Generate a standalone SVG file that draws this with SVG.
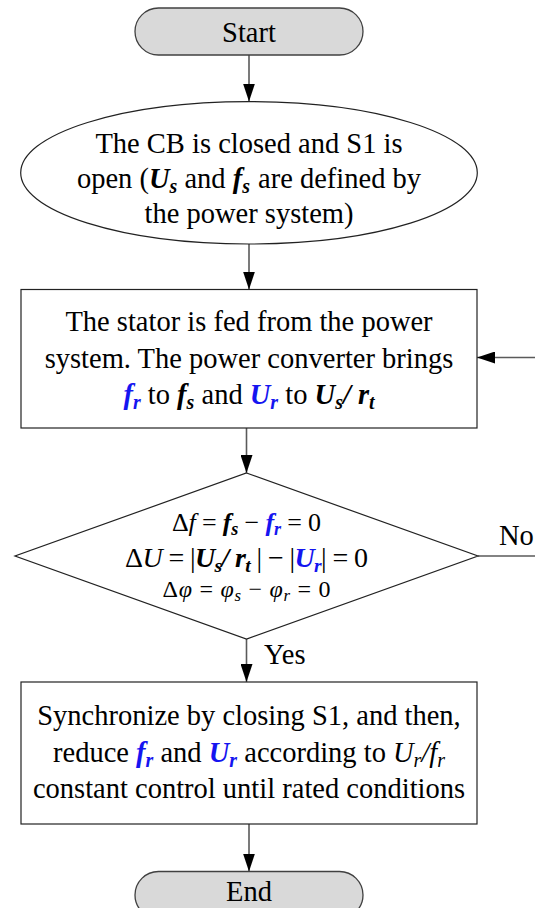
<svg xmlns="http://www.w3.org/2000/svg" width="535" height="908" viewBox="0 0 535 908">
  <defs>
    <marker id="arrow" markerUnits="userSpaceOnUse" markerWidth="18" markerHeight="12" refX="18" refY="6" orient="auto">
      <path d="M0,0 L18,6 L0,12 z" fill="#000"/>
    </marker>
    <style>
      .term { fill: #d9d9d9; stroke: #404040; stroke-width: 1.3; }
      .proc { fill: #fff; stroke: #222; stroke-width: 1.2; }
      .conn { fill: none; stroke: #5a5a5a; stroke-width: 1.6; }
      text { font-family: 'Liberation Serif', 'DejaVu Serif', serif; font-size: 28.5px; fill: #000; }
      text.c { text-anchor: middle; }
      .bi { font-weight: bold; font-style: italic; }
      .i { font-style: italic; }
      .blue { fill: #1515f0; }
      .sub { font-size: 70%; }
    </style>
  </defs>

  <g font-family="Liberation Serif, DejaVu Serif, serif">
  <!-- connectors -->
  <g id="connectors">
    <line class="conn" x1="249" y1="55" x2="249" y2="101.5" marker-end="url(#arrow)"/>
    <line class="conn" x1="249" y1="244" x2="249" y2="289.5" marker-end="url(#arrow)"/>
    <line class="conn" x1="246.5" y1="428" x2="246.5" y2="473" marker-end="url(#arrow)"/>
    <line class="conn" x1="246.5" y1="639" x2="246.5" y2="682" marker-end="url(#arrow)"/>
    <line class="conn" x1="249" y1="824" x2="249" y2="871.5" marker-end="url(#arrow)"/>
    <!-- "No" branch loops back on the right -->
    <line class="conn" x1="478" y1="556" x2="535" y2="556"/>
    <line class="conn" x1="535" y1="357.5" x2="477" y2="357.5" marker-end="url(#arrow)"/>
    <text x="499" y="545">No</text>
    <text x="264" y="664">Yes</text>
  </g>

  <!-- start terminal -->
  <g id="start">
    <rect class="term" x="135" y="8" width="228" height="47" rx="23.5"/>
    <text class="c" x="249" y="42">Start</text>
  </g>

  <!-- initial state -->
  <g id="initial-state">
    <ellipse class="proc" cx="249" cy="172.8" rx="228.3" ry="71.2"/>
    <text class="c" x="249" y="153">The CB is closed and S1 is</text>
    <text class="c" x="249" y="188">open (<tspan class="bi">U</tspan><tspan class="bi sub" dy="5">s</tspan><tspan dy="-5"> and </tspan><tspan class="bi">f</tspan><tspan class="bi sub" dy="5">s</tspan><tspan dy="-5" dx="8">are defined by</tspan></text>
    <text class="c" x="249" y="223">the power system)</text>
  </g>

  <!-- converter step -->
  <g id="converter-step">
    <rect class="proc" x="21" y="289.5" width="456" height="138.5"/>
    <text class="c" x="249" y="331">The stator is fed from the power</text>
    <text class="c" x="249" y="368">system. The power converter brings</text>
    <text class="c" x="249" y="404"><tspan class="bi blue">f</tspan><tspan class="bi blue sub" dy="5">r</tspan><tspan dy="-5"> to </tspan><tspan class="bi">f</tspan><tspan class="bi sub" dy="5">s</tspan><tspan dy="-5"> and </tspan><tspan class="bi blue">U</tspan><tspan class="bi blue sub" dy="5">r</tspan><tspan dy="-5"> to </tspan><tspan class="bi">U</tspan><tspan class="bi sub" dy="5">s</tspan><tspan class="bi" dy="-5">/ r</tspan><tspan class="bi sub" dy="5">t</tspan></text>
  </g>

  <!-- synchronism check -->
  <g id="sync-check">
    <polygon class="proc" points="246.5,473 478,556 246.5,639 15,556"/>
    <text class="c" x="246.5" y="531" font-size="26" style="font-size:26px" textLength="149" lengthAdjust="spacing">Δ<tspan class="i">f</tspan> = <tspan class="bi">f</tspan><tspan class="bi sub" dy="4">s</tspan><tspan dy="-4"> − </tspan><tspan class="bi blue">f</tspan><tspan class="bi blue sub" dy="4">r</tspan><tspan dy="-4"> = 0</tspan></text>
    <text class="c" x="246.5" y="567" style="font-size:28px" textLength="243" lengthAdjust="spacing">Δ<tspan class="i">U</tspan> = |<tspan class="bi">U</tspan><tspan class="bi sub" dy="5">s</tspan><tspan class="bi" dy="-5">/ r</tspan><tspan class="bi sub" dy="5">t</tspan><tspan dy="-5"> | − |</tspan><tspan class="bi blue">U</tspan><tspan class="bi blue sub" dy="5">r</tspan><tspan dy="-5">| = 0</tspan></text>
    <text class="c" x="246.5" y="597" style="font-size:24px" textLength="168" lengthAdjust="spacing">Δ<tspan class="i">φ</tspan> = <tspan class="i">φ</tspan><tspan class="i sub" dy="4">s</tspan><tspan dy="-4"> − </tspan><tspan class="i">φ</tspan><tspan class="i sub" dy="4">r</tspan><tspan dy="-4"> = 0</tspan></text>
  </g>

  <!-- synchronize step -->
  <g id="synchronize-step">
    <rect class="proc" x="21" y="682" width="456" height="142"/>
    <text class="c" x="249" y="725">Synchronize by closing S1, and then,</text>
    <text class="c" x="249" y="762">reduce <tspan class="bi blue">f</tspan><tspan class="bi blue sub" dy="5">r</tspan><tspan dy="-5"> and </tspan><tspan class="bi blue">U</tspan><tspan class="bi blue sub" dy="5">r</tspan><tspan dy="-5"> according to </tspan><tspan class="i">U</tspan><tspan class="i sub" dy="5">r</tspan><tspan class="i" dy="-5">/f</tspan><tspan class="i sub" dy="5">r</tspan></text>
    <text class="c" x="249" y="798">constant control until rated conditions</text>
  </g>

  <!-- end terminal -->
  <g id="end">
    <rect class="term" x="135" y="871.5" width="228" height="47" rx="23.5"/>
    <text class="c" x="249" y="901">End</text>
  </g>
  </g>
</svg>
